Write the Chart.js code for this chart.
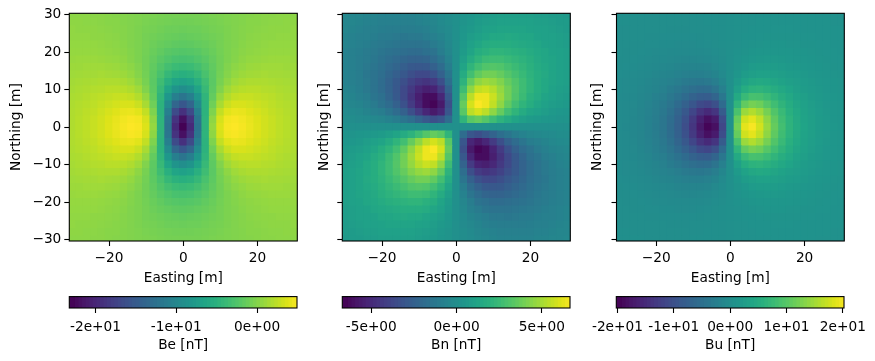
<!DOCTYPE html>
<html>
<head>
<meta charset="utf-8">
<title>Dipole field</title>
<script src="https://cdn.jsdelivr.net/npm/chart.js@4"></script>
<style>
  html, body { margin: 0; padding: 0; background: #fff; overflow: hidden; width: 875px; height: 361px; }
  canvas { position: absolute; }
</style>
</head>
<body>
<canvas id="panelBe" width="298" height="287" style="left:8px;top:0"></canvas>
<canvas id="panelBn" width="262" height="287" style="left:316px;top:0"></canvas>
<canvas id="panelBu" width="263" height="287" style="left:589px;top:0"></canvas>
<canvas id="barBe" width="308" height="69" style="left:29px;top:285px"></canvas>
<canvas id="barBn" width="308" height="69" style="left:302px;top:285px"></canvas>
<canvas id="barBu" width="308" height="69" style="left:576px;top:285px"></canvas>
<script>
const eastings = [-30,-28,-26,-24,-22,-20,-18,-16,-14,-12,-10,-8,-6,-4,-2,0,2,4,6,8,10,12,14,16,18,20,22,24,26,28,30];
const northings = [30,28,26,24,22,20,18,16,14,12,10,8,6,4,2,0,-2,-4,-6,-8,-10,-12,-14,-16,-18,-20,-22,-24,-26,-28,-30];

const beValues = [
  [.1,.1,.1,0,0,-.1,-.2,-.3,-.4,-.5,-.6,-.7,-.8,-.9,-.9,-.9,-.9,-.9,-.8,-.7,-.6,-.5,-.4,-.3,-.2,-.1,0,0,.1,.1,.1],
  [.2,.2,.1,.1,0,-.1,-.1,-.3,-.4,-.5,-.7,-.8,-.9,-1,-1.1,-1.1,-1.1,-1,-.9,-.8,-.7,-.5,-.4,-.3,-.1,-.1,0,.1,.1,.2,.2],
  [.3,.2,.2,.2,.1,0,-.1,-.2,-.4,-.6,-.8,-.9,-1.1,-1.3,-1.3,-1.4,-1.3,-1.3,-1.1,-.9,-.8,-.6,-.4,-.2,-.1,0,.1,.2,.2,.2,.3],
  [.3,.3,.3,.2,.2,.1,0,-.2,-.4,-.6,-.9,-1.1,-1.3,-1.5,-1.6,-1.7,-1.6,-1.5,-1.3,-1.1,-.9,-.6,-.4,-.2,0,.1,.2,.2,.3,.3,.3],
  [.4,.4,.4,.4,.3,.2,.1,-.1,-.4,-.6,-.9,-1.3,-1.6,-1.8,-2,-2.1,-2,-1.8,-1.6,-1.3,-.9,-.6,-.4,-.1,.1,.2,.3,.4,.4,.4,.4],
  [.5,.5,.5,.5,.4,.3,.2,0,-.3,-.6,-1,-1.5,-1.9,-2.3,-2.5,-2.6,-2.5,-2.3,-1.9,-1.5,-1,-.6,-.3,0,.2,.3,.4,.5,.5,.5,.5],
  [.6,.7,.7,.7,.6,.5,.4,.2,-.2,-.6,-1.1,-1.7,-2.3,-2.8,-3.2,-3.3,-3.2,-2.8,-2.3,-1.7,-1.1,-.6,-.2,.2,.4,.5,.6,.7,.7,.7,.6],
  [.8,.8,.9,.9,.9,.8,.7,.4,.1,-.4,-1.1,-1.9,-2.7,-3.5,-4,-4.2,-4,-3.5,-2.7,-1.9,-1.1,-.4,.1,.4,.7,.8,.9,.9,.9,.8,.8],
  [.9,1,1.1,1.1,1.2,1.1,1,.8,.4,-.2,-1,-2.1,-3.2,-4.4,-5.2,-5.5,-5.2,-4.4,-3.2,-2.1,-1,-.2,.4,.8,1,1.1,1.2,1.1,1.1,1,.9],
  [1.1,1.2,1.3,1.4,1.5,1.5,1.5,1.3,.9,.2,-.8,-2.2,-3.8,-5.4,-6.7,-7.2,-6.7,-5.4,-3.8,-2.2,-.8,.2,.9,1.3,1.5,1.5,1.5,1.4,1.3,1.2,1.1],
  [1.2,1.4,1.5,1.7,1.8,2,2,1.9,1.6,.9,-.4,-2.1,-4.3,-6.8,-8.7,-9.4,-8.7,-6.8,-4.3,-2.1,-.4,.9,1.6,1.9,2,2,1.8,1.7,1.5,1.4,1.2],
  [1.4,1.5,1.7,2,2.2,2.4,2.6,2.6,2.4,1.7,.4,-1.8,-4.8,-8.3,-11.1,-12.3,-11.1,-8.3,-4.8,-1.8,.4,1.7,2.4,2.6,2.6,2.4,2.2,2,1.7,1.5,1.4],
  [1.5,1.7,1.9,2.2,2.5,2.8,3.1,3.3,3.3,2.7,1.3,-1.2,-5.1,-9.8,-14,-15.7,-14,-9.8,-5.1,-1.2,1.3,2.7,3.3,3.3,3.1,2.8,2.5,2.2,1.9,1.7,1.5],
  [1.6,1.8,2.1,2.4,2.8,3.2,3.6,4,4.1,3.7,2.4,-.5,-5.1,-11.2,-16.9,-19.3,-16.9,-11.2,-5.1,-.5,2.4,3.7,4.1,4,3.6,3.2,2.8,2.4,2.1,1.8,1.6],
  [1.6,1.9,2.2,2.6,3,3.5,4,4.4,4.7,4.5,3.2,.2,-5,-12.2,-19.1,-22.1,-19.1,-12.2,-5,.2,3.2,4.5,4.7,4.4,4,3.5,3,2.6,2.2,1.9,1.6],
  [1.6,1.9,2.2,2.6,3,3.6,4.1,4.6,4.9,4.7,3.5,.5,-4.9,-12.5,-20,-23.2,-20,-12.5,-4.9,.5,3.5,4.7,4.9,4.6,4.1,3.6,3,2.6,2.2,1.9,1.6],
  [1.6,1.9,2.2,2.6,3,3.5,4,4.4,4.7,4.5,3.2,.2,-5,-12.2,-19.1,-22.1,-19.1,-12.2,-5,.2,3.2,4.5,4.7,4.4,4,3.5,3,2.6,2.2,1.9,1.6],
  [1.6,1.8,2.1,2.4,2.8,3.2,3.6,4,4.1,3.7,2.4,-.5,-5.1,-11.2,-16.9,-19.3,-16.9,-11.2,-5.1,-.5,2.4,3.7,4.1,4,3.6,3.2,2.8,2.4,2.1,1.8,1.6],
  [1.5,1.7,1.9,2.2,2.5,2.8,3.1,3.3,3.3,2.7,1.3,-1.2,-5.1,-9.8,-14,-15.7,-14,-9.8,-5.1,-1.2,1.3,2.7,3.3,3.3,3.1,2.8,2.5,2.2,1.9,1.7,1.5],
  [1.4,1.5,1.7,2,2.2,2.4,2.6,2.6,2.4,1.7,.4,-1.8,-4.8,-8.3,-11.1,-12.3,-11.1,-8.3,-4.8,-1.8,.4,1.7,2.4,2.6,2.6,2.4,2.2,2,1.7,1.5,1.4],
  [1.2,1.4,1.5,1.7,1.8,2,2,1.9,1.6,.9,-.4,-2.1,-4.3,-6.8,-8.7,-9.4,-8.7,-6.8,-4.3,-2.1,-.4,.9,1.6,1.9,2,2,1.8,1.7,1.5,1.4,1.2],
  [1.1,1.2,1.3,1.4,1.5,1.5,1.5,1.3,.9,.2,-.8,-2.2,-3.8,-5.4,-6.7,-7.2,-6.7,-5.4,-3.8,-2.2,-.8,.2,.9,1.3,1.5,1.5,1.5,1.4,1.3,1.2,1.1],
  [.9,1,1.1,1.1,1.2,1.1,1,.8,.4,-.2,-1,-2.1,-3.2,-4.4,-5.2,-5.5,-5.2,-4.4,-3.2,-2.1,-1,-.2,.4,.8,1,1.1,1.2,1.1,1.1,1,.9],
  [.8,.8,.9,.9,.9,.8,.7,.4,.1,-.4,-1.1,-1.9,-2.7,-3.5,-4,-4.2,-4,-3.5,-2.7,-1.9,-1.1,-.4,.1,.4,.7,.8,.9,.9,.9,.8,.8],
  [.6,.7,.7,.7,.6,.5,.4,.2,-.2,-.6,-1.1,-1.7,-2.3,-2.8,-3.2,-3.3,-3.2,-2.8,-2.3,-1.7,-1.1,-.6,-.2,.2,.4,.5,.6,.7,.7,.7,.6],
  [.5,.5,.5,.5,.4,.3,.2,0,-.3,-.6,-1,-1.5,-1.9,-2.3,-2.5,-2.6,-2.5,-2.3,-1.9,-1.5,-1,-.6,-.3,0,.2,.3,.4,.5,.5,.5,.5],
  [.4,.4,.4,.4,.3,.2,.1,-.1,-.4,-.6,-.9,-1.3,-1.6,-1.8,-2,-2.1,-2,-1.8,-1.6,-1.3,-.9,-.6,-.4,-.1,.1,.2,.3,.4,.4,.4,.4],
  [.3,.3,.3,.2,.2,.1,0,-.2,-.4,-.6,-.9,-1.1,-1.3,-1.5,-1.6,-1.7,-1.6,-1.5,-1.3,-1.1,-.9,-.6,-.4,-.2,0,.1,.2,.2,.3,.3,.3],
  [.3,.2,.2,.2,.1,0,-.1,-.2,-.4,-.6,-.8,-.9,-1.1,-1.3,-1.3,-1.4,-1.3,-1.3,-1.1,-.9,-.8,-.6,-.4,-.2,-.1,0,.1,.2,.2,.2,.3],
  [.2,.2,.1,.1,0,-.1,-.1,-.3,-.4,-.5,-.7,-.8,-.9,-1,-1.1,-1.1,-1.1,-1,-.9,-.8,-.7,-.5,-.4,-.3,-.1,-.1,0,.1,.1,.2,.2],
  [.1,.1,.1,0,0,-.1,-.2,-.3,-.4,-.5,-.6,-.7,-.8,-.9,-.9,-.9,-.9,-.9,-.8,-.7,-.6,-.5,-.4,-.3,-.2,-.1,0,0,.1,.1,.1]
];

const bnValues = [
  [-.5,-.6,-.6,-.7,-.7,-.8,-.8,-.8,-.8,-.8,-.7,-.6,-.5,-.3,-.2,0,.2,.3,.5,.6,.7,.8,.8,.8,.8,.8,.7,.7,.6,.6,.5],
  [-.6,-.6,-.7,-.8,-.8,-.9,-.9,-.9,-.9,-.9,-.8,-.7,-.6,-.4,-.2,0,.2,.4,.6,.7,.8,.9,.9,.9,.9,.9,.8,.8,.7,.6,.6],
  [-.6,-.7,-.8,-.9,-.9,-1,-1.1,-1.1,-1.1,-1.1,-1,-.9,-.7,-.5,-.3,0,.3,.5,.7,.9,1,1.1,1.1,1.1,1.1,1,.9,.9,.8,.7,.6],
  [-.7,-.8,-.9,-.9,-1,-1.2,-1.2,-1.3,-1.4,-1.3,-1.3,-1.1,-.9,-.7,-.4,0,.4,.7,.9,1.1,1.3,1.3,1.4,1.3,1.2,1.2,1,.9,.9,.8,.7],
  [-.7,-.8,-.9,-1,-1.2,-1.3,-1.4,-1.5,-1.6,-1.6,-1.6,-1.5,-1.2,-.9,-.5,0,.5,.9,1.2,1.5,1.6,1.6,1.6,1.5,1.4,1.3,1.2,1,.9,.8,.7],
  [-.8,-.9,-1,-1.2,-1.3,-1.5,-1.7,-1.8,-1.9,-2,-2,-1.8,-1.6,-1.1,-.6,0,.6,1.1,1.6,1.8,2,2,1.9,1.8,1.7,1.5,1.3,1.2,1,.9,.8],
  [-.8,-.9,-1.1,-1.2,-1.4,-1.7,-1.9,-2.1,-2.3,-2.5,-2.5,-2.4,-2,-1.5,-.8,0,.8,1.5,2,2.4,2.5,2.5,2.3,2.1,1.9,1.7,1.4,1.2,1.1,.9,.8],
  [-.8,-.9,-1.1,-1.3,-1.5,-1.8,-2.1,-2.4,-2.7,-3,-3.1,-3,-2.6,-2,-1.1,0,1.1,2,2.6,3,3.1,3,2.7,2.4,2.1,1.8,1.5,1.3,1.1,.9,.8],
  [-.8,-.9,-1.1,-1.4,-1.6,-1.9,-2.3,-2.7,-3.1,-3.5,-3.8,-3.8,-3.4,-2.6,-1.5,0,1.5,2.6,3.4,3.8,3.8,3.5,3.1,2.7,2.3,1.9,1.6,1.4,1.1,.9,.8],
  [-.8,-.9,-1.1,-1.3,-1.6,-2,-2.5,-3,-3.5,-4.1,-4.5,-4.7,-4.4,-3.5,-1.9,0,1.9,3.5,4.4,4.7,4.5,4.1,3.5,3,2.5,2,1.6,1.3,1.1,.9,.8],
  [-.7,-.8,-1,-1.3,-1.6,-2,-2.5,-3.1,-3.8,-4.5,-5.2,-5.6,-5.4,-4.4,-2.5,0,2.5,4.4,5.4,5.6,5.2,4.5,3.8,3.1,2.5,2,1.6,1.3,1,.8,.7],
  [-.6,-.7,-.9,-1.1,-1.5,-1.8,-2.4,-3,-3.8,-4.7,-5.6,-6.3,-6.3,-5.3,-3.1,0,3.1,5.3,6.3,6.3,5.6,4.7,3.8,3,2.4,1.8,1.5,1.1,.9,.7,.6],
  [-.5,-.6,-.7,-.9,-1.2,-1.6,-2,-2.6,-3.4,-4.4,-5.4,-6.3,-6.6,-5.8,-3.5,0,3.5,5.8,6.6,6.3,5.4,4.4,3.4,2.6,2,1.6,1.2,.9,.7,.6,.5],
  [-.3,-.4,-.5,-.7,-.9,-1.1,-1.5,-2,-2.6,-3.5,-4.4,-5.3,-5.8,-5.3,-3.2,0,3.2,5.3,5.8,5.3,4.4,3.5,2.6,2,1.5,1.1,.9,.7,.5,.4,.3],
  [-.2,-.2,-.3,-.4,-.5,-.6,-.8,-1.1,-1.5,-1.9,-2.5,-3.1,-3.5,-3.2,-2,0,2,3.2,3.5,3.1,2.5,1.9,1.5,1.1,.8,.6,.5,.4,.3,.2,.2],
  [0,0,0,0,0,0,0,0,0,0,0,0,0,0,0,0,0,0,0,0,0,0,0,0,0,0,0,0,0,0,0],
  [.2,.2,.3,.4,.5,.6,.8,1.1,1.5,1.9,2.5,3.1,3.5,3.2,2,0,-2,-3.2,-3.5,-3.1,-2.5,-1.9,-1.5,-1.1,-.8,-.6,-.5,-.4,-.3,-.2,-.2],
  [.3,.4,.5,.7,.9,1.1,1.5,2,2.6,3.5,4.4,5.3,5.8,5.3,3.2,0,-3.2,-5.3,-5.8,-5.3,-4.4,-3.5,-2.6,-2,-1.5,-1.1,-.9,-.7,-.5,-.4,-.3],
  [.5,.6,.7,.9,1.2,1.6,2,2.6,3.4,4.4,5.4,6.3,6.6,5.8,3.5,0,-3.5,-5.8,-6.6,-6.3,-5.4,-4.4,-3.4,-2.6,-2,-1.6,-1.2,-.9,-.7,-.6,-.5],
  [.6,.7,.9,1.1,1.5,1.8,2.4,3,3.8,4.7,5.6,6.3,6.3,5.3,3.1,0,-3.1,-5.3,-6.3,-6.3,-5.6,-4.7,-3.8,-3,-2.4,-1.8,-1.5,-1.1,-.9,-.7,-.6],
  [.7,.8,1,1.3,1.6,2,2.5,3.1,3.8,4.5,5.2,5.6,5.4,4.4,2.5,0,-2.5,-4.4,-5.4,-5.6,-5.2,-4.5,-3.8,-3.1,-2.5,-2,-1.6,-1.3,-1,-.8,-.7],
  [.8,.9,1.1,1.3,1.6,2,2.5,3,3.5,4.1,4.5,4.7,4.4,3.5,1.9,0,-1.9,-3.5,-4.4,-4.7,-4.5,-4.1,-3.5,-3,-2.5,-2,-1.6,-1.3,-1.1,-.9,-.8],
  [.8,.9,1.1,1.4,1.6,1.9,2.3,2.7,3.1,3.5,3.8,3.8,3.4,2.6,1.5,0,-1.5,-2.6,-3.4,-3.8,-3.8,-3.5,-3.1,-2.7,-2.3,-1.9,-1.6,-1.4,-1.1,-.9,-.8],
  [.8,.9,1.1,1.3,1.5,1.8,2.1,2.4,2.7,3,3.1,3,2.6,2,1.1,0,-1.1,-2,-2.6,-3,-3.1,-3,-2.7,-2.4,-2.1,-1.8,-1.5,-1.3,-1.1,-.9,-.8],
  [.8,.9,1.1,1.2,1.4,1.7,1.9,2.1,2.3,2.5,2.5,2.4,2,1.5,.8,0,-.8,-1.5,-2,-2.4,-2.5,-2.5,-2.3,-2.1,-1.9,-1.7,-1.4,-1.2,-1.1,-.9,-.8],
  [.8,.9,1,1.2,1.3,1.5,1.7,1.8,1.9,2,2,1.8,1.6,1.1,.6,0,-.6,-1.1,-1.6,-1.8,-2,-2,-1.9,-1.8,-1.7,-1.5,-1.3,-1.2,-1,-.9,-.8],
  [.7,.8,.9,1,1.2,1.3,1.4,1.5,1.6,1.6,1.6,1.5,1.2,.9,.5,0,-.5,-.9,-1.2,-1.5,-1.6,-1.6,-1.6,-1.5,-1.4,-1.3,-1.2,-1,-.9,-.8,-.7],
  [.7,.8,.9,.9,1,1.2,1.2,1.3,1.4,1.3,1.3,1.1,.9,.7,.4,0,-.4,-.7,-.9,-1.1,-1.3,-1.3,-1.4,-1.3,-1.2,-1.2,-1,-.9,-.9,-.8,-.7],
  [.6,.7,.8,.9,.9,1,1.1,1.1,1.1,1.1,1,.9,.7,.5,.3,0,-.3,-.5,-.7,-.9,-1,-1.1,-1.1,-1.1,-1.1,-1,-.9,-.9,-.8,-.7,-.6],
  [.6,.6,.7,.8,.8,.9,.9,.9,.9,.9,.8,.7,.6,.4,.2,0,-.2,-.4,-.6,-.7,-.8,-.9,-.9,-.9,-.9,-.9,-.8,-.8,-.7,-.6,-.6],
  [.5,.6,.6,.7,.7,.8,.8,.8,.8,.8,.7,.6,.5,.3,.2,0,-.2,-.3,-.5,-.6,-.7,-.8,-.8,-.8,-.8,-.8,-.7,-.7,-.6,-.6,-.5]
];

const buValues = [
  [-.2,-.2,-.2,-.2,-.3,-.3,-.3,-.3,-.3,-.3,-.2,-.2,-.2,-.1,-.1,0,.1,.1,.2,.2,.2,.3,.3,.3,.3,.3,.3,.2,.2,.2,.2],
  [-.2,-.2,-.3,-.3,-.3,-.3,-.3,-.4,-.4,-.3,-.3,-.3,-.2,-.2,-.1,0,.1,.2,.2,.3,.3,.3,.4,.4,.3,.3,.3,.3,.3,.2,.2],
  [-.3,-.3,-.3,-.3,-.4,-.4,-.4,-.5,-.5,-.5,-.4,-.4,-.3,-.2,-.1,0,.1,.2,.3,.4,.4,.5,.5,.5,.4,.4,.4,.3,.3,.3,.3],
  [-.3,-.3,-.4,-.4,-.5,-.5,-.6,-.6,-.6,-.6,-.6,-.5,-.4,-.3,-.2,0,.2,.3,.4,.5,.6,.6,.6,.6,.6,.5,.5,.4,.4,.3,.3],
  [-.3,-.4,-.5,-.5,-.6,-.6,-.7,-.7,-.8,-.8,-.8,-.7,-.6,-.4,-.2,0,.2,.4,.6,.7,.8,.8,.8,.7,.7,.6,.6,.5,.5,.4,.3],
  [-.4,-.5,-.5,-.6,-.7,-.8,-.9,-1,-1,-1.1,-1.1,-1,-.8,-.6,-.3,0,.3,.6,.8,1,1.1,1.1,1,1,.9,.8,.7,.6,.5,.5,.4],
  [-.5,-.5,-.6,-.7,-.8,-1,-1.1,-1.3,-1.4,-1.5,-1.5,-1.4,-1.2,-.9,-.5,0,.5,.9,1.2,1.4,1.5,1.5,1.4,1.3,1.1,1,.8,.7,.6,.5,.5],
  [-.5,-.6,-.7,-.9,-1,-1.2,-1.4,-1.6,-1.8,-2,-2.1,-2,-1.8,-1.3,-.7,0,.7,1.3,1.8,2,2.1,2,1.8,1.6,1.4,1.2,1,.9,.7,.6,.5],
  [-.6,-.7,-.8,-1,-1.2,-1.5,-1.8,-2.1,-2.4,-2.7,-2.9,-2.9,-2.6,-2,-1.1,0,1.1,2,2.6,2.9,2.9,2.7,2.4,2.1,1.8,1.5,1.2,1,.8,.7,.6],
  [-.7,-.8,-1,-1.2,-1.5,-1.8,-2.2,-2.6,-3.1,-3.6,-4,-4.2,-3.9,-3.1,-1.7,0,1.7,3.1,3.9,4.2,4,3.6,3.1,2.6,2.2,1.8,1.5,1.2,1,.8,.7],
  [-.7,-.9,-1.1,-1.4,-1.7,-2.1,-2.6,-3.3,-4,-4.8,-5.5,-6,-5.8,-4.7,-2.7,0,2.7,4.7,5.8,6,5.5,4.8,4,3.3,2.6,2.1,1.7,1.4,1.1,.9,.7],
  [-.8,-1,-1.2,-1.5,-1.9,-2.5,-3.1,-4,-5,-6.2,-7.4,-8.3,-8.4,-7.1,-4.2,0,4.2,7.1,8.4,8.3,7.4,6.2,5,4,3.1,2.5,1.9,1.5,1.2,1,.8],
  [-.8,-1.1,-1.3,-1.7,-2.2,-2.8,-3.6,-4.7,-6.1,-7.8,-9.6,-11.2,-11.8,-10.4,-6.2,0,6.2,10.4,11.8,11.2,9.6,7.8,6.1,4.7,3.6,2.8,2.2,1.7,1.3,1.1,.8],
  [-.9,-1.1,-1.4,-1.8,-2.3,-3,-4,-5.3,-7.1,-9.2,-11.8,-14.2,-15.5,-14.1,-8.6,0,8.6,14.1,15.5,14.2,11.8,9.2,7.1,5.3,4,3,2.3,1.8,1.4,1.1,.9],
  [-.9,-1.1,-1.5,-1.9,-2.5,-3.2,-4.3,-5.8,-7.7,-10.3,-13.4,-16.6,-18.6,-17.3,-10.8,0,10.8,17.3,18.6,16.6,13.4,10.3,7.7,5.8,4.3,3.2,2.5,1.9,1.5,1.1,.9],
  [-.9,-1.2,-1.5,-1.9,-2.5,-3.3,-4.4,-5.9,-8,-10.7,-14,-17.5,-19.8,-18.6,-11.7,0,11.7,18.6,19.8,17.5,14,10.7,8,5.9,4.4,3.3,2.5,1.9,1.5,1.2,.9],
  [-.9,-1.1,-1.5,-1.9,-2.5,-3.2,-4.3,-5.8,-7.7,-10.3,-13.4,-16.6,-18.6,-17.3,-10.8,0,10.8,17.3,18.6,16.6,13.4,10.3,7.7,5.8,4.3,3.2,2.5,1.9,1.5,1.1,.9],
  [-.9,-1.1,-1.4,-1.8,-2.3,-3,-4,-5.3,-7.1,-9.2,-11.8,-14.2,-15.5,-14.1,-8.6,0,8.6,14.1,15.5,14.2,11.8,9.2,7.1,5.3,4,3,2.3,1.8,1.4,1.1,.9],
  [-.8,-1.1,-1.3,-1.7,-2.2,-2.8,-3.6,-4.7,-6.1,-7.8,-9.6,-11.2,-11.8,-10.4,-6.2,0,6.2,10.4,11.8,11.2,9.6,7.8,6.1,4.7,3.6,2.8,2.2,1.7,1.3,1.1,.8],
  [-.8,-1,-1.2,-1.5,-1.9,-2.5,-3.1,-4,-5,-6.2,-7.4,-8.3,-8.4,-7.1,-4.2,0,4.2,7.1,8.4,8.3,7.4,6.2,5,4,3.1,2.5,1.9,1.5,1.2,1,.8],
  [-.7,-.9,-1.1,-1.4,-1.7,-2.1,-2.6,-3.3,-4,-4.8,-5.5,-6,-5.8,-4.7,-2.7,0,2.7,4.7,5.8,6,5.5,4.8,4,3.3,2.6,2.1,1.7,1.4,1.1,.9,.7],
  [-.7,-.8,-1,-1.2,-1.5,-1.8,-2.2,-2.6,-3.1,-3.6,-4,-4.2,-3.9,-3.1,-1.7,0,1.7,3.1,3.9,4.2,4,3.6,3.1,2.6,2.2,1.8,1.5,1.2,1,.8,.7],
  [-.6,-.7,-.8,-1,-1.2,-1.5,-1.8,-2.1,-2.4,-2.7,-2.9,-2.9,-2.6,-2,-1.1,0,1.1,2,2.6,2.9,2.9,2.7,2.4,2.1,1.8,1.5,1.2,1,.8,.7,.6],
  [-.5,-.6,-.7,-.9,-1,-1.2,-1.4,-1.6,-1.8,-2,-2.1,-2,-1.8,-1.3,-.7,0,.7,1.3,1.8,2,2.1,2,1.8,1.6,1.4,1.2,1,.9,.7,.6,.5],
  [-.5,-.5,-.6,-.7,-.8,-1,-1.1,-1.3,-1.4,-1.5,-1.5,-1.4,-1.2,-.9,-.5,0,.5,.9,1.2,1.4,1.5,1.5,1.4,1.3,1.1,1,.8,.7,.6,.5,.5],
  [-.4,-.5,-.5,-.6,-.7,-.8,-.9,-1,-1,-1.1,-1.1,-1,-.8,-.6,-.3,0,.3,.6,.8,1,1.1,1.1,1,1,.9,.8,.7,.6,.5,.5,.4],
  [-.3,-.4,-.5,-.5,-.6,-.6,-.7,-.7,-.8,-.8,-.8,-.7,-.6,-.4,-.2,0,.2,.4,.6,.7,.8,.8,.8,.7,.7,.6,.6,.5,.5,.4,.3],
  [-.3,-.3,-.4,-.4,-.5,-.5,-.6,-.6,-.6,-.6,-.6,-.5,-.4,-.3,-.2,0,.2,.3,.4,.5,.6,.6,.6,.6,.6,.5,.5,.4,.4,.3,.3],
  [-.3,-.3,-.3,-.3,-.4,-.4,-.4,-.5,-.5,-.5,-.4,-.4,-.3,-.2,-.1,0,.1,.2,.3,.4,.4,.5,.5,.5,.4,.4,.4,.3,.3,.3,.3],
  [-.2,-.2,-.3,-.3,-.3,-.3,-.3,-.4,-.4,-.3,-.3,-.3,-.2,-.2,-.1,0,.1,.2,.2,.3,.3,.3,.4,.4,.3,.3,.3,.3,.3,.2,.2],
  [-.2,-.2,-.2,-.2,-.3,-.3,-.3,-.3,-.3,-.3,-.2,-.2,-.2,-.1,-.1,0,.1,.1,.2,.2,.2,.3,.3,.3,.3,.3,.3,.2,.2,.2,.2]
];

const eastTicks = [-20, 0, 20];
const northTicks = [-30, -20, -10, 0, 10, 20, 30];
const beTicks = [-20, -10, 0];
const beTickLabels = ['-2e+01', '-1e+01', '0e+00'];
const bnTicks = [-5, 0, 5];
const bnTickLabels = ['-5e+00', '0e+00', '5e+00'];
const buTicks = [-20, -10, 0, 10, 20];
const buTickLabels = ['-2e+01', '-1e+01', '0e+00', '1e+01', '2e+01'];

const viridis = ['#440154','#481567','#482677','#453781','#404788','#39568c','#33638d','#2d708e','#287d8e','#238a8d',
                 '#1f968b','#20a387','#29af7f','#3cbb75','#55c667','#73d055','#95d840','#b8de29','#dce319','#fde725'];

const font = { family: '"DejaVu Sans"', size: 13.7 };
const cellSide = 8.3;

Chart.defaults.font.family = font.family;
Chart.defaults.font.size = font.size;
Chart.defaults.color = '#000';

function hexRgb(h) {
  return [1, 3, 5].map(k => parseInt(h.slice(k, k + 2), 16));
}

function colorAt(t) {
  const p = Math.min(Math.max(t, 0), 1) * (viridis.length - 1);
  const i = Math.min(Math.floor(p), viridis.length - 2);
  const a = hexRgb(viridis[i]), b = hexRgb(viridis[i + 1]);
  const mix = a.map((v, k) => Math.round(v + (b[k] - v) * (p - i)));
  return `rgb(${mix[0]},${mix[1]},${mix[2]})`;
}

// top and right spines, the axes only give left and bottom
const framePlugin = {
  id: 'frame',
  afterDraw(chart) {
    const a = chart.chartArea, ctx = chart.ctx;
    ctx.save();
    ctx.strokeStyle = '#000';
    ctx.lineWidth = 1.1;
    ctx.strokeRect(a.left, a.top, a.width, a.height);
    ctx.restore();
  }
};

const tickGrid = { display: true, drawOnChartArea: false, drawTicks: true, tickLength: 5, tickWidth: 1.1, tickColor: '#000', color: '#000' };

function axisTitle(text) {
  return { display: true, text: text, padding: 0, font: font, color: '#000' };
}

function makePanel(id, values, vmin, vmax, yAxisWidth, showNorthLabels, rightPad) {
  const cells = [];
  values.forEach((row, j) => row.forEach((v, i) => cells.push({ x: eastings[i], y: northings[j], v: v })));

  new Chart(document.getElementById(id), {
    type: 'scatter',
    data: {
      datasets: [{
        data: cells,
        clip: 0,
        showLine: false,
        pointStyle: 'rect',
        pointRadius: cellSide * Math.SQRT1_2,
        pointBorderWidth: 0,
        pointBackgroundColor: c => c.raw ? colorAt((c.raw.v - vmin) / (vmax - vmin)) : '#000'
      }]
    },
    options: {
      responsive: false,
      animation: false,
      events: [],
      layout: { padding: { top: 13.3, right: rightPad, bottom: 0, left: 0 } },
      plugins: { legend: { display: false }, tooltip: { enabled: false } },
      scales: {
        x: {
          type: 'linear', min: -30.7, max: 30.7,
          afterBuildTicks: s => { s.ticks = eastTicks.map(v => ({ value: v })); },
          afterFit: s => { s.height = 46; },
          grid: tickGrid,
          border: { display: false },
          ticks: { padding: 4, maxRotation: 0, autoSkip: false, callback: v => String(v).replace('-', '\u2212') },
          title: axisTitle('Easting [m]')
        },
        y: {
          type: 'linear', min: -30.35, max: 30.35,
          afterBuildTicks: s => { s.ticks = northTicks.map(v => ({ value: v })); },
          afterFit: s => { s.width = yAxisWidth; },
          grid: tickGrid,
          border: { display: false },
          ticks: { display: showNorthLabels, padding: 3, autoSkip: false, callback: v => String(v).replace('-', '\u2212') },
          title: axisTitle('Northing [m]')
        }
      }
    },
    plugins: [framePlugin]
  });
}

function makeColorbar(id, vmin, vmax, ticks, tickLabels, label) {
  const bins = 64;
  const step = (vmax - vmin) / bins;
  const datasets = [];
  for (let i = 0; i < bins; i++) {
    // each bin runs a little into the next one, so no seam shows between them
    datasets.push({
      data: [[vmin + i * step, vmin + (i + 1.5) * step]],
      backgroundColor: colorAt((i + 0.5) / bins),
      grouped: false,
      barPercentage: 1,
      categoryPercentage: 1
    });
  }

  new Chart(document.getElementById(id), {
    type: 'bar',
    data: { labels: [label], datasets: datasets },
    options: {
      indexAxis: 'y',
      responsive: false,
      animation: false,
      events: [],
      layout: { padding: { top: 11.6, right: 40, bottom: 0, left: 40.3 } },
      plugins: { legend: { display: false }, tooltip: { enabled: false } },
      scales: {
        x: {
          type: 'linear', min: vmin, max: vmax,
          afterBuildTicks: s => { s.ticks = ticks.map(v => ({ value: v })); },
          afterFit: s => { s.height = 46; },
          grid: tickGrid,
          border: { display: false },
          ticks: { padding: 6, maxRotation: 0, autoSkip: false, callback: (v, i) => tickLabels[i] },
          title: axisTitle(label)
        },
        y: { display: false }
      }
    },
    plugins: [framePlugin]
  });
}

makePanel('panelBe', beValues, -23.24, 4.94, 61.3, true, 8.7);
makePanel('panelBn', bnValues, -6.7, 6.65, 26.3, false, 7.7);
makePanel('panelBu', buValues, -20.2, 20.2, 27.5, false, 7.7);

makeColorbar('barBe', -23.24, 4.94, beTicks, beTickLabels, 'Be [nT]');
makeColorbar('barBn', -6.7, 6.65, bnTicks, bnTickLabels, 'Bn [nT]');
makeColorbar('barBu', -20.2, 20.2, buTicks, buTickLabels, 'Bu [nT]');
</script>
</body>
</html>
